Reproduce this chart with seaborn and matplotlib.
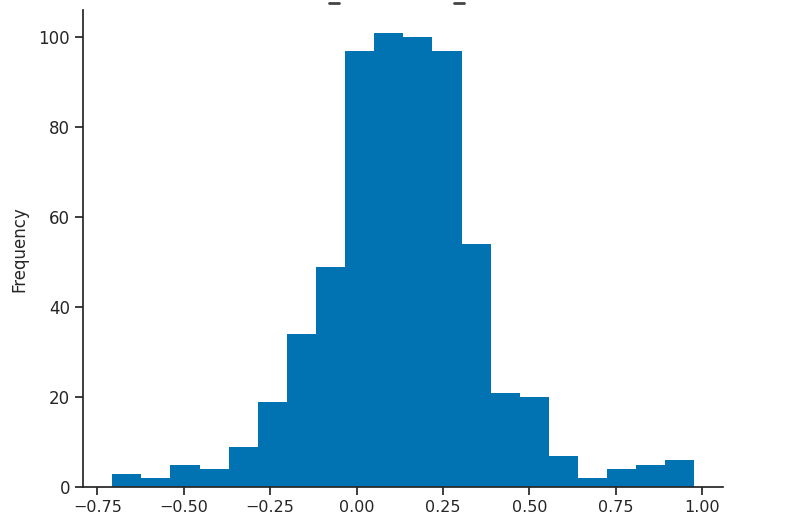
import numpy as np
import pandas as pd
import matplotlib
matplotlib.use("Agg")
import matplotlib.pyplot as plt
from matplotlib.lines import Line2D
import seaborn as sns

# bin edges and counts
bin_edges = [-0.707, -0.623, -0.539, -0.454, -0.370, -0.286, -0.202, -0.117,
             -0.033, 0.051, 0.135, 0.219, 0.304, 0.388, 0.472, 0.556,
             0.640, 0.725, 0.809, 0.893, 0.977]
counts = [3, 2, 5, 4, 9, 19, 34, 49, 97, 101, 100, 97, 54, 21, 20, 7, 2, 4, 5, 6]

centers = [(a + b) / 2 for a, b in zip(bin_edges[:-1], bin_edges[1:])]
df = pd.DataFrame({"value": centers, "count": counts})

sns.set_theme(style="ticks")
plt.rcParams['font.family'] = ['DejaVu Sans']

fig = plt.figure(figsize=(8, 5.29), dpi=100)
ax = fig.add_axes([0.104, 0.079, 0.80, 0.902])

sns.histplot(data=df, x="value", weights="count", bins=bin_edges,
             color="#0173b2", alpha=1, edgecolor="none", linewidth=0, ax=ax)

ax.set_xlabel("")
ax.set_ylabel("Frequency", fontsize=12, labelpad=7)
ax.set_xticks([-0.75, -0.5, -0.25, 0.0, 0.25, 0.5, 0.75, 1.0])
ax.tick_params(axis="y", labelsize=12)
ax.tick_params(axis="x", labelsize=11.5)
sns.despine(ax=ax)

# remnants of a clipped title at the very top of the image
for xf in (0.4175, 0.574):
    fig.add_artist(Line2D([xf - 0.006, xf + 0.006], [0.9945, 0.9945],
                          color="#444444", linewidth=2, transform=fig.transFigure))

fig.savefig("out.png", dpi=100)
